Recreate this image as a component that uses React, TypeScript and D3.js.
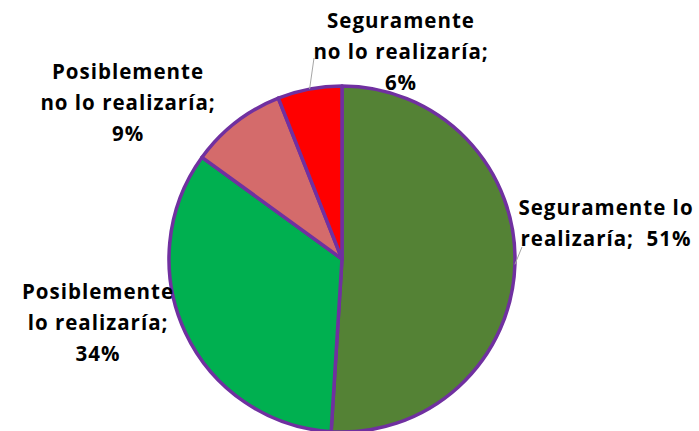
import React, { useRef, useEffect } from "react";
import * as d3 from "d3";

const categories = [
  "Seguramente lo realizaría",
  "Posiblemente lo realizaría",
  "Posiblemente no lo realizaría",
  "Seguramente no lo realizaría",
];
const values = [51, 34, 9, 6];
const colors = ["#548235", "#00B050", "#D46B6B", "#FF0000"];

// label text split as in the original, plus where each block sits relative to the pie center
const labelLines = [
  ["Seguramente lo", "realizaría;  51%"],
  ["Posiblemente", "lo realizaría;", "34%"],
  ["Posiblemente", "no lo realizaría;", "9%"],
  ["Seguramente", "no lo realizaría;", "6%"],
];
const labelPos = [
  [264, -44],
  [-244, 40],
  [-214, -180],
  [59, -231],
];
const leaderEnd: ([number, number] | null)[] = [[180, -12], null, null, [-28, -201]];

const App: React.FC = () => {
  const svg = useRef<SVGSVGElement>(null);
  const width = 699;
  const height = 431;
  const cx = 342;
  const cy = 259;
  const radius = 173;

  useEffect(() => {
    const sel = d3.select(svg.current);
    sel.selectAll("*").remove();
    const g = sel.append("g").attr("transform", `translate(${cx},${cy})`);

    const pie = d3
      .pie<number>()
      .sort(null)
      .value((d) => d)
      .startAngle(0)
      .endAngle(2 * Math.PI);
    const arcs = pie(values);
    const arc = d3.arc<d3.PieArcDatum<number>>().innerRadius(0).outerRadius(radius);

    g.selectAll("path.slice")
      .data(arcs)
      .join("path")
      .attr("class", "slice")
      .attr("d", arc)
      .attr("fill", (d, i) => colors[i])
      .attr("stroke", "#7030A0")
      .attr("stroke-width", 3.5)
      .attr("stroke-linejoin", "round");

    // leader lines from the slice edge toward the label
    g.selectAll("line.leader")
      .data(arcs.filter((d, i) => leaderEnd[i]))
      .join("line")
      .attr("class", "leader")
      .attr("x1", (d) => Math.sin((d.startAngle + d.endAngle) / 2) * radius)
      .attr("y1", (d) => -Math.cos((d.startAngle + d.endAngle) / 2) * radius)
      .attr("x2", (d) => leaderEnd[d.index]![0])
      .attr("y2", (d) => leaderEnd[d.index]![1])
      .attr("stroke", "#A6A6A6")
      .attr("stroke-width", 1);

    const labels = g
      .selectAll("text.lbl")
      .data(arcs)
      .join("text")
      .attr("class", "lbl")
      .attr("text-anchor", "middle")
      .attr("font-family", "'Open Sans', Lato, sans-serif")
      .attr("font-weight", "bold")
      .attr("font-size", 20.5)
      .attr("letter-spacing", 1)
      .attr("fill", "#000");

    labels
      .selectAll("tspan")
      .data((d) => labelLines[d.index].map((t, j) => ({ t, j, i: d.index })))
      .join("tspan")
      .attr("x", (d) => labelPos[d.i][0])
      .attr("y", (d) => labelPos[d.i][1] + d.j * 31)
      .style("white-space", "pre")
      .text((d) => d.t);
  }, []);

  return (
    <svg
      ref={svg}
      width={width}
      height={height}
      style={{ position: "absolute", left: 0, top: 0, background: "#fff" }}
    />
  );
};

export default App;
